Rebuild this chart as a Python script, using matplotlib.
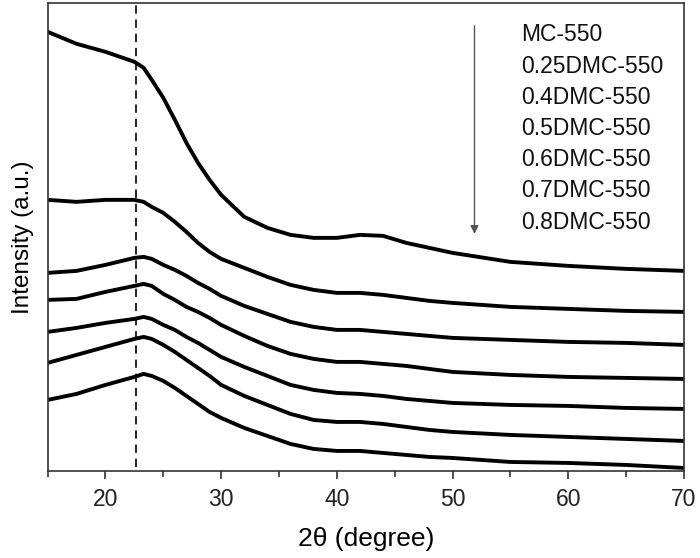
import numpy as np
import matplotlib.pyplot as plt

plt.rcParams['font.family'] = ['Liberation Sans', 'DejaVu Sans']

theta = [15, 17.5, 20, 22.5, 23.3, 24, 25, 26, 27, 28, 29, 30, 32, 34, 36, 38,
         40, 42, 44, 46, 48, 50, 55, 60, 65, 70]

# intensities (a.u., already stacked with offsets)
mc_550 = [439, 427, 419, 409, 403, 391, 373, 351, 328, 308, 291, 276, 254, 243, 236, 233,
          233, 236, 235, 228, 223, 218, 209, 205, 202, 200]
dmc_025 = [271, 269, 271, 271, 269, 264, 258, 249, 239, 228, 219, 212, 203, 194, 186, 181,
           178, 178, 176, 173, 170, 168, 164, 162, 160, 159]
dmc_04 = [198, 200, 206, 213, 214, 212, 206, 201, 195, 188, 182, 175, 165, 157, 149, 144,
          141, 141, 139, 137, 135, 133, 131, 129, 128, 126]
dmc_05 = [171, 172, 179, 185, 187, 185, 177, 171, 164, 159, 153, 146, 135, 125, 117, 112,
          109, 109, 107, 105, 102, 99, 96, 94, 93, 92]
dmc_06 = [139, 143, 148, 152, 154, 152, 146, 141, 134, 128, 121, 114, 104, 95, 86, 81,
          78, 77, 75, 72, 70, 68, 66, 65, 63, 62]
dmc_07 = [108, 116, 124, 132, 134, 132, 126, 119, 111, 103, 95, 86, 75, 66, 57, 51,
          49, 49, 47, 44, 41, 39, 36, 34, 32, 30]
dmc_08 = [71, 77, 86, 94, 97, 95, 90, 83, 75, 67, 59, 53, 43, 35, 27, 22,
          20, 20, 18, 16, 14, 13, 9, 8, 6, 3]

etiquetas = ['MC-550', '0.25DMC-550', '0.4DMC-550', '0.5DMC-550',
             '0.6DMC-550', '0.7DMC-550', '0.8DMC-550']
curvas = [mc_550, dmc_025, dmc_04, dmc_05, dmc_06, dmc_07, dmc_08]

fig = plt.figure(figsize=(7, 5.58), dpi=100)
ax = fig.add_axes([0.068, 0.156, 0.909, 0.839])

for y in curvas:
    ax.plot(theta, y, color='black', lw=2.8, solid_joinstyle='round')

# linea de referencia
ax.axvline(22.6, ymin=0.008, ymax=1, color='black', ls=(0, (5, 3.5)), lw=1.2)

# flecha y nombres de las muestras
ax.annotate('', xy=(51.9, 237), xytext=(51.9, 445),
            arrowprops=dict(arrowstyle='-|>', color='#555555', lw=1,
                            mutation_scale=12, shrinkA=0, shrinkB=0))
y_txt = 436
for et in etiquetas:
    ax.text(55.9, y_txt, et, fontsize=16.5, va='center', ha='left', color='#111111')
    y_txt -= 31.2

ax.set_xlim(15, 70)
ax.set_ylim(0, 468)
ax.set_xticks([20, 30, 40, 50, 60, 70])
ax.set_xticks([15, 25, 35, 45, 55, 65], minor=True)
ax.set_yticks([])
ax.tick_params(axis='x', which='major', direction='out', length=6, width=1.1,
               labelsize=16.5, pad=6, colors='#222222')
ax.tick_params(axis='x', which='minor', direction='out', length=4, width=1.1,
               colors='#222222')
for s in ax.spines.values():
    s.set_linewidth(1.2)
    s.set_color('#333333')

ax.set_xlabel('2θ (degree)', fontsize=19, labelpad=12)
ax.set_ylabel('Intensity (a.u.)', fontsize=17.5, labelpad=10)

fig.savefig('out.png', dpi=100)
